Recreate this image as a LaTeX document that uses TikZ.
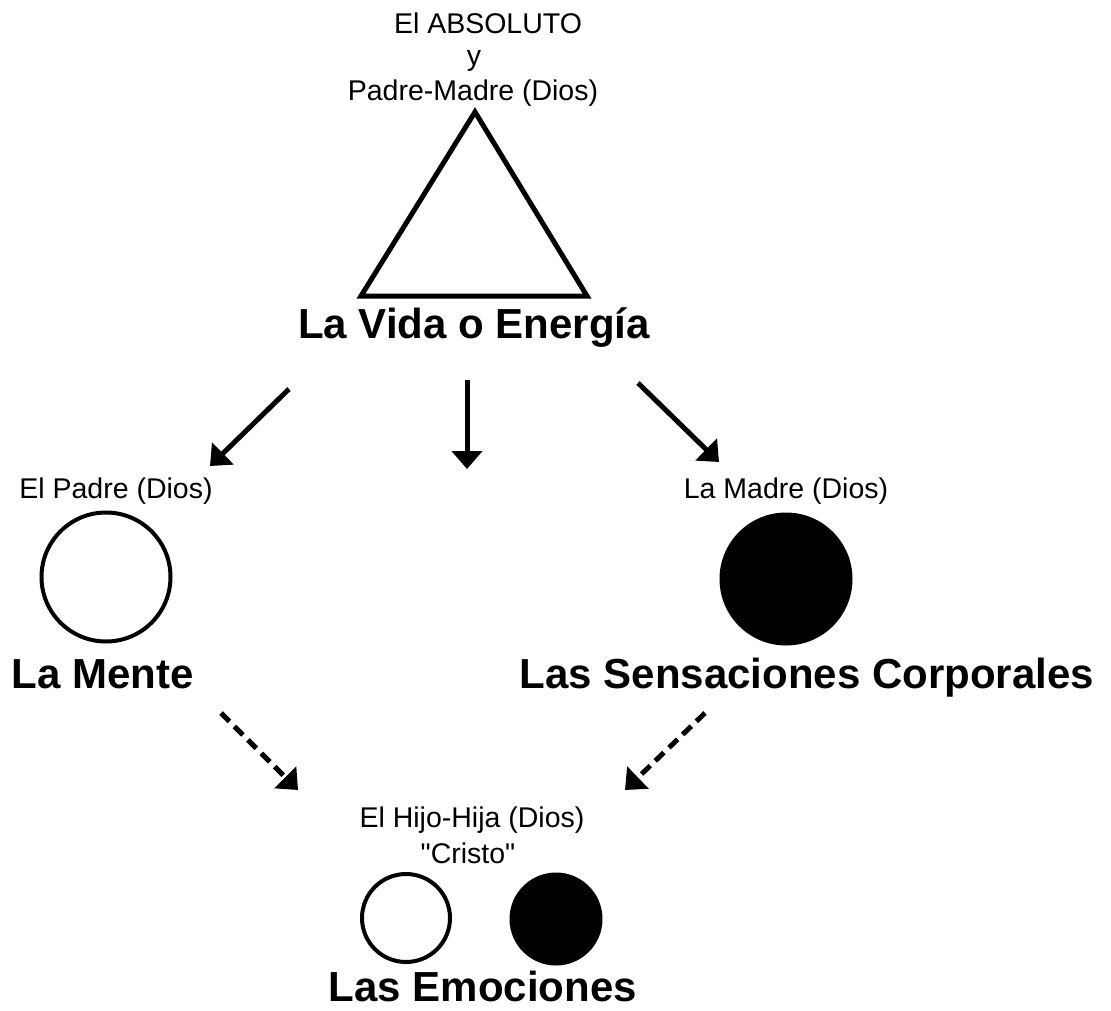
\documentclass[tikz,border=0pt]{standalone}
\usepackage{fontspec}
\setmainfont{Liberation Sans}[Ligatures=TeXOff]
\usetikzlibrary{arrows.meta}
\tikzset{
  small/.style={font=\fontsize{28.5}{34}\selectfont, inner sep=0pt, anchor=base},
  big/.style={font=\fontsize{42}{50}\selectfont\bfseries, inner sep=0pt, anchor=base},
  ring/.style={circle, draw=black, line width=4pt, fill=white, inner sep=0pt},
  disc/.style={circle, fill=black, inner sep=0pt},
  solidarrow/.style={line width=5pt, -{Triangle[length=18pt,width=30pt]}},
  dasharrow/.style={line width=5pt, dash pattern=on 12pt off 7pt, -{Triangle[length=18pt,width=30pt]}}
}
\begin{document}
\begin{tikzpicture}[x=1pt,y=-1pt]
\useasboundingbox (0,0) rectangle (1111,1010);
\fill[white] (0,0) rectangle (1111,1010);
% top text
\node[small] (abs) at (488,33) {El ABSOLUTO};
\node[small] (yy) at (474,65) {y};
\node[small] (pm) at (473,100) {Padre-Madre (Dios)};
% triangle
\coordinate (tA) at (475,112);
\coordinate (tB) at (361,296);
\coordinate (tC) at (587,296);
\draw[line width=5pt, line join=miter] (tA) -- (tB) -- (tC) -- cycle;
\node[big] (vida) at (474,338) {La Vida o Energía};
% solid arrows
\coordinate (a1s) at (289,389);
\coordinate (a1e) at (210,466);
\coordinate (a2s) at (467,380);
\coordinate (a2e) at (467,469);
\coordinate (a3s) at (638,383);
\coordinate (a3e) at (719,462);
\draw[solidarrow] (a1s) -- (a1e);
\draw[solidarrow] (a2s) -- (a2e);
\draw[solidarrow] (a3s) -- (a3e);
% left: Padre
\node[small] (padre) at (116,498) {El Padre (Dios)};
\node[ring, minimum size=129pt] (cpadre) at (106,577) {};
\node[big] (mente) at (103,688) {La Mente};
% right: Madre
\node[small] (madre) at (786,498) {La Madre (Dios)};
\node[disc, minimum size=133pt] (cmadre) at (786,579) {};
\node[big] (sens) at (807,688) {Las Sensaciones Corporales};
% dashed arrows
\coordinate (d1s) at (221,713);
\coordinate (d1e) at (298,790);
\coordinate (d2s) at (705,713);
\coordinate (d2e) at (625,790);
\draw[dasharrow] (d1s) -- (d1e);
\draw[dasharrow] (d2s) -- (d2e);
% bottom: Hijo-Hija
\node[small] (hijo) at (472,827) {El Hijo-Hija (Dios)};
\node[small] (cristo) at (468,863) {"Cristo"};
\node[ring, minimum size=88pt] (chw) at (406,918) {};
\node[disc, minimum size=93pt] (chb) at (556,919) {};
\node[big] (emoc) at (483,1001) {Las Emociones};
\end{tikzpicture}
\end{document}
